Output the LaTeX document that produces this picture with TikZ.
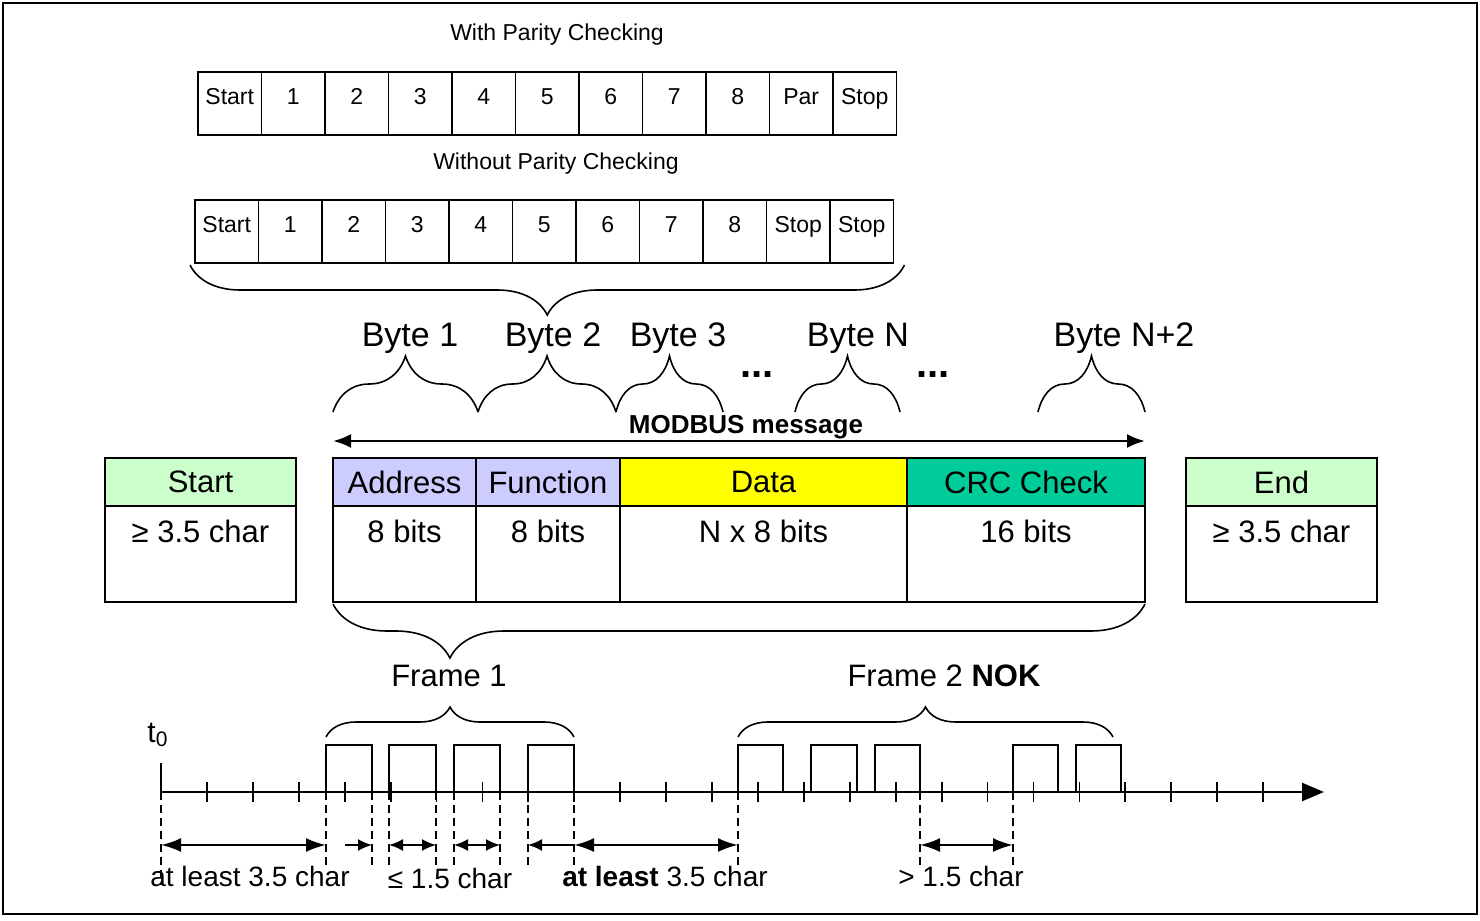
\documentclass[tikz,border=0pt]{standalone}
\usepackage{fontspec}
\setmainfont{Liberation Sans}
\usetikzlibrary{arrows.meta,calc,positioning,decorations.pathreplacing}

\definecolor{hdgreen}{HTML}{CCFFCC}
\definecolor{lav}{HTML}{CCCCFF}
\definecolor{yel}{HTML}{FFFF00}
\definecolor{crcgreen}{HTML}{00CC99}

\begin{document}
\begin{tikzpicture}[x=0.5pt,y=-0.5pt,>=Latex,
  bitcell/.style={draw,line width=0.9pt,anchor=north west,minimum width=31.75pt,minimum height=31.5pt,inner sep=0pt,outer sep=0pt,text height=8pt,text depth=6.8pt,font=\fontsize{11.5}{12}\selectfont},
  hdcell/.style={draw,line width=1.1pt,minimum height=24pt,inner sep=0pt,outer sep=0pt,font=\fontsize{15.5}{16}\selectfont},
  bdcell/.style={draw,line width=1.1pt,minimum height=48pt,inner sep=0pt,outer sep=0pt,text height=11pt,text depth=22.9pt,font=\fontsize{15.5}{16}\selectfont},
  rowlbl/.style={anchor=base,font=\fontsize{11.5}{12}\selectfont},
  bytelbl/.style={anchor=base,font=\fontsize{17}{18}\selectfont},
  framelbl/.style={anchor=base,font=\fontsize{15.5}{16}\selectfont},
  timelbl/.style={anchor=base,font=\fontsize{14}{15}\selectfont},
  dotslbl/.style={anchor=base,font=\bfseries\fontsize{20}{20}\selectfont},
  brc/.style={decorate,decoration={brace,amplitude=#1},line width=0.8pt},
  pulse/.style={line width=1pt},
  tickmark/.style={line width=0.9pt},
  guide/.style={dash pattern=on 4pt off 2.5pt,line width=0.9pt},
  dim/.style={line width=1.2pt,>={Latex[length=10pt,width=7pt]}},
  dimsm/.style={line width=1pt,>={Latex[length=7pt,width=6pt]}}]
\useasboundingbox (0,0) rectangle (1480,921);
\draw[line width=1.4pt] (3,3) rectangle (1477,914);

% bit frames
\node[rowlbl] (wpc) at (557,40) {With Parity Checking};
\foreach \t [count=\i from 0] in {Start,1,2,3,4,5,6,7,8,Par,Stop}
  \node[bitcell] (p\i) at ({198+63.5*\i},72) {\t};
\node[rowlbl] (wopc) at (556,169) {Without Parity Checking};
\foreach \t [count=\i from 0] in {Start,1,2,3,4,5,6,7,8,Stop,Stop}
  \node[bitcell] (q\i) at ({195+63.5*\i},200) {\t};
\draw[brc=25pt] ($(q10.south east)+(11,2)$) -- ($(q0.south west)+(-5,2)$);

% bytes
\node[bytelbl] (by1) at (410,346) {Byte 1};
\node[bytelbl] (by2) at (553,346) {Byte 2};
\node[bytelbl] (by3) at (678,346) {Byte 3};
\node[bytelbl] (byn) at (858,346) {Byte N};
\node[bytelbl] (byn2) at (1124,346) {Byte N+2};
\node[dotslbl] (dots1) at (757,377) {...};
\node[dotslbl] (dots2) at (933,377) {...};
\draw[brc=28pt] (333,412) -- (478,412);
\draw[brc=28pt] (478,412) -- (616,412);
\draw[brc=28pt] (616,412) -- (723,412);
\draw[brc=28pt] (795,412) -- (900,412);
\draw[brc=28pt] (1038,412) -- (1145,412);

% frame table
\node[hdcell,fill=hdgreen,minimum width=95.5pt,anchor=north west] (sth) at (105,458) {Start};
\node[bdcell,minimum width=95.5pt,below=0pt of sth] (stb) {≥ 3.5 char};
\node[hdcell,fill=lav,minimum width=71.5pt,anchor=north west] (adh) at (333,458) {Address};
\node[hdcell,fill=lav,minimum width=72pt,right=0pt of adh] (fnh) {Function};
\node[hdcell,fill=yel,minimum width=143.5pt,right=0pt of fnh] (dah) {Data};
\node[hdcell,fill=crcgreen,minimum width=119pt,right=0pt of dah] (crh) {CRC Check};
\node[bdcell,minimum width=71.5pt,below=0pt of adh] (adb) {8 bits};
\node[bdcell,minimum width=72pt,below=0pt of fnh] (fnb) {8 bits};
\node[bdcell,minimum width=143.5pt,below=0pt of dah] (dab) {N x 8 bits};
\node[bdcell,minimum width=119pt,below=0pt of crh] (crb) {16 bits};
\node[hdcell,fill=hdgreen,minimum width=95.5pt,anchor=north west] (endh) at (1186,458) {End};
\node[bdcell,minimum width=95.5pt,below=0pt of endh] (endb) {≥ 3.5 char};

\node[anchor=base,font=\bfseries\fontsize{13}{13}\selectfont] (msg) at (746,433) {MODBUS message};
\draw[<->,line width=1.3pt,>={Latex[length=9pt,width=7pt]}] ($(adh.north west)+(0,-17)$) -- ($(crh.north east)+(0,-17)$);
\draw[brc=27pt,decoration={aspect=0.856}] ($(crb.south east)+(0,2)$) -- ($(adb.south west)+(0,2)$);

% timeline
\node[framelbl] (fr1) at (449,686) {Frame 1};
\node[framelbl] (fr2) at (944,686) {Frame 2 \textbf{NOK}};
\node[anchor=base,font=\fontsize{15}{15}\selectfont] (t0lbl) at (158,742) {t\textsubscript{0}};
\coordinate (t0) at (161,792);
\coordinate (tend) at (1324,792);
\draw[line width=1.2pt,-{Triangle[length=11pt,width=9pt]}] (t0) -- (tend);
\draw[tickmark] (161,763) -- (t0);
\foreach \k in {1,...,24}
  \draw[tickmark] ({161+45.92*\k},782) -- ++(0,20);
\foreach \a/\b in {326/372,389/436,454/500,528/574,738/783,811/857,875/920,1013/1058,1076/1121}
  \draw[pulse] (\a,792) -- (\a,745) -- (\b,745) -- (\b,792);
\draw[brc=15pt] (326,737) -- (574,737);
\draw[brc=15pt] (738,737) -- (1113,737);

\draw[guide] (t0) -- (161,885);
\coordinate (g161) at (161,845);
\foreach \x in {326,372,389,436,454,500,528,574,738,920,1013} {
  \draw[guide] (\x,792) -- (\x,868);
  \coordinate (g\x) at (\x,845);
}
\coordinate (s1) at (345,845);
\draw[dim,<->] (g161) -- (g326);
\draw[dimsm,->] (s1) -- (g372);
\draw[dimsm,<->] (g389) -- (g436);
\draw[dimsm,<->] (g454) -- (g500);
\draw[dimsm,<-] (g528) -- (g574);
\draw[dim,<->] (g574) -- (g738);
\draw[dim,<->] (g920) -- (g1013);

\node[timelbl] (al1) at (250,886) {at least 3.5 char};
\node[timelbl] (le) at (450,888) {≤ 1.5 char};
\node[timelbl] (al2) at (665,886) {\textbf{at least} 3.5 char};
\node[timelbl] (gt) at (961,886) {> 1.5 char};
\end{tikzpicture}
\end{document}
